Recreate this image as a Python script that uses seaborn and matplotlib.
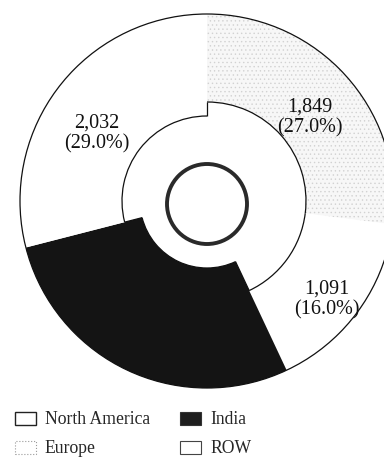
import numpy as np
import matplotlib
matplotlib.use("Agg")
import matplotlib.pyplot as plt
from matplotlib.patches import Arc, Circle, Patch
import seaborn as sns

# Regional split
regions = ["North America", "Europe", "India", "ROW"]
values = [1849, 1091, None, 2032]          # India value not printed on the ring
shares = [27.0, 16.0, 28.0, 29.0]          # percent of total
legend_order = ["North America", "Europe", "India", "ROW"]

sns.set_theme(style="white")
plt.rcParams["font.family"] = ["Liberation Serif", "DejaVu Serif"]
plt.rcParams["hatch.linewidth"] = 0.5

fill_colors = sns.color_palette(["#f7f7f7", "#ffffff", "#141414", "#ffffff"])
hatch_styles = ["....", "", "", ""]

fig = plt.figure(figsize=(3.84, 4.58), dpi=100)
ax = fig.add_axes([0, 0, 1, 1])

cx, cy = 207, 257
outer_r = 187
inner_r = [99, 99, 67, 85]              # each segment has its own hole radius
label_r = [0.717, 0.82, 0.7, 0.70]      # label distance as fraction of outer radius
label_turn = [-1.5, -2.7, 0.0, 5.0]     # small angular nudge for each label (deg)

wedges, _ = ax.pie(
    shares,
    colors=fill_colors,
    startangle=90,
    counterclock=False,
    radius=outer_r,
    center=(cx, cy),
    wedgeprops=dict(linewidth=0, edgecolor="#d2d2d2"),
)
for w, h, r_in in zip(wedges, hatch_styles, inner_r):
    w.set_width(outer_r - r_in)
    if h:
        w.set_hatch(h)

# thin outlines: outer circle and each segment's inner arc
ax.add_patch(Circle((cx, cy), outer_r, fill=False, lw=0.9, edgecolor="#111111"))
for w, r_in in zip(wedges, inner_r):
    ax.add_patch(Arc((cx, cy), 2 * r_in, 2 * r_in, theta1=w.theta1, theta2=w.theta2,
                     lw=0.9, color="#111111"))

# short radial steps where neighbouring holes differ in size
n = len(wedges)
for i in range(n):
    j = (i + 1) % n
    if inner_r[i] == inner_r[j]:
        continue
    shared = {round(wedges[i].theta1, 6), round(wedges[i].theta2, 6)} & \
             {round(wedges[j].theta1 % 360, 6), round(wedges[j].theta2 % 360, 6),
              round(wedges[j].theta1, 6), round(wedges[j].theta2, 6)}
    ang = np.deg2rad(next(iter(shared)) if shared else wedges[i].theta1)
    a = sorted([inner_r[i], inner_r[j]])
    ax.plot([cx + a[0] * np.cos(ang), cx + a[1] * np.cos(ang)],
            [cy + a[0] * np.sin(ang), cy + a[1] * np.sin(ang)],
            color="#111111", lw=0.9, solid_capstyle="butt")

# small centre ring
ax.add_patch(Circle((cx, cy - 3), 40, fill=False, lw=2.8, edgecolor="#2a2a2a"))

# value labels
for w, v, s, fr, turn in zip(wedges, values, shares, label_r, label_turn):
    if v is None:
        continue
    mid = np.deg2rad((w.theta1 + w.theta2) / 2 + turn)
    r = outer_r * fr
    ax.text(cx + r * np.cos(mid), cy + r * np.sin(mid) - 3, f"{v:,}\n({s:.1f}%)",
            ha="center", va="center", fontsize=14.5, linespacing=1.12, color="#111111")

ax.set_xlim(0, 384)
ax.set_ylim(0, 458)
ax.set_aspect("equal")
ax.axis("off")

handles = [
    Patch(facecolor="white", edgecolor="#222222", linewidth=1.0),
    Patch(facecolor="white", edgecolor="#9a9a9a", linewidth=0.8, linestyle=":"),
    Patch(facecolor="#1e1e1e", edgecolor="#333333", linewidth=0.8),
    Patch(facecolor="white", edgecolor="#444444", linewidth=0.8),
]
fig.legend(handles, legend_order, ncol=2, loc="upper left",
           bbox_to_anchor=(0.039, 0.102), frameon=False, fontsize=12.7,
           handlelength=1.2, handleheight=0.75, handletextpad=0.5,
           columnspacing=1.7, labelspacing=0.68, borderpad=0, borderaxespad=0)

fig.savefig("out.png", dpi=100)
